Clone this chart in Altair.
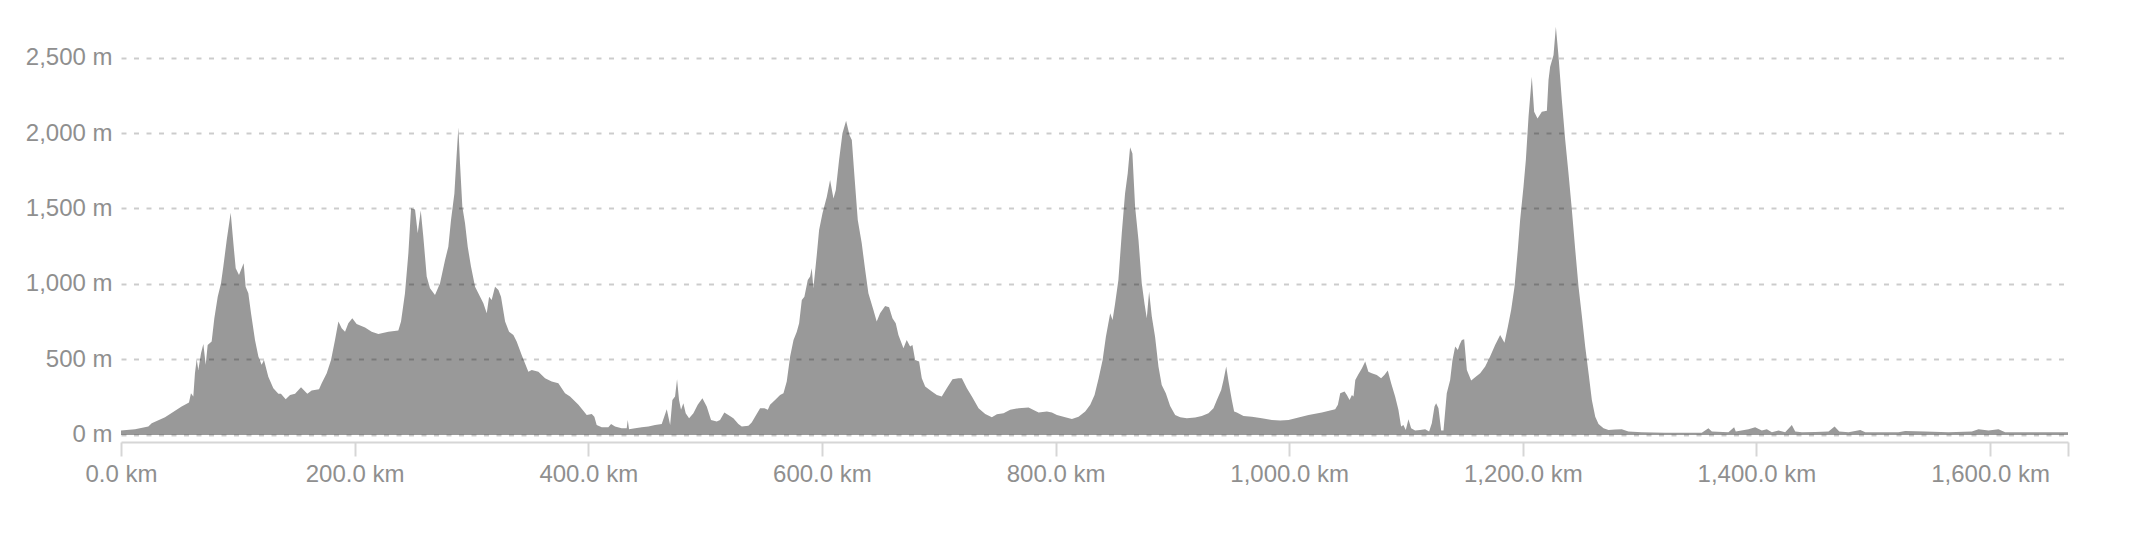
import altair as alt
import pandas as pd

# distance along the route (km)
km = [
    0, 12.0, 23.4, 26.3, 37.7, 51.9, 58.2, 59.9, 61.9, 63.3, 64.8, 66.2, 68.5, 70.5, 72.5, 74.2, 77.6, 79.9,
    82.8, 85.6, 87.6, 90.5, 93.9, 96.2, 98.2, 101.0, 103.3, 105.0, 106.7, 109.0, 111.3, 114.7, 117.6, 120.4,
    122.4, 126.1, 130.4, 134.7, 136.9, 141.0, 144.7, 149.0, 154.1, 159.5, 163.2, 169.5, 171.8, 176.1, 179.8,
    183.2, 186.1, 188.9, 191.8, 194.6, 198.0, 201.7, 208.9,
    214.6, 220.3, 228.9, 237.4, 239.7, 243.1, 246.0, 248.3, 251.7, 254.0, 256.6, 258.8, 261.7, 264.5, 268.8,
    273.1, 277.4, 280.2, 282.5, 285.4, 287.4, 288.8, 290.2, 292.2, 294.5, 296.8, 299.6, 303.1, 307.4, 310.2,
    313.1, 315.1, 317.3, 320.2, 323.1, 325.3, 328.8, 332.2, 335.9, 338.7, 343.0, 348.7, 351.6, 357.3, 363.0,
    368.7, 374.4, 380.1, 384.4, 391.6, 398.7, 403.0, 405.2, 407.2, 411.5, 417.2, 419.5, 422.9,
    428.6, 432.9, 433.8, 434.9, 440.1, 445.8, 451.5, 457.2, 462.9, 467.2, 470.1, 472.0, 474.3, 476.0, 477.7,
    479.4, 481.4, 483.4, 486.3, 490.0, 493.7, 497.7, 501.4, 505.1, 510.0, 512.8, 516.5, 519.9, 524.2, 528.5,
    531.4, 537.1, 539.9, 542.8, 547.1, 550.8, 553.7, 555.6, 559.9, 564.2, 567.1, 569.9, 572.8, 575.7, 578.5,
    580.5, 582.8, 585.0, 587.9, 589.9, 591.3, 592.7, 595.6, 597.6, 600.5, 604.2, 607.0, 609.9, 611.9, 614.7,
    617.6, 620.7, 623.6, 625.6, 627.9, 630.7, 634.1, 636.9,
    639.8, 644.1, 646.9, 649.8, 654.1, 657.5, 660.4, 663.2, 665.5, 669.8, 672.6, 675.5, 677.5, 679.8, 683.2,
    685.5, 688.4, 694.1, 698.4, 702.6, 706.9, 711.8, 716.9, 719.8, 724.1, 728.4, 734.1, 739.8, 745.5, 749.8,
    755.5, 761.2, 768.4, 776.9, 785.5, 792.6, 796.9, 801.2, 808.3, 814.0, 819.7, 825.4, 829.7, 833.4, 836.9,
    840.3, 843.1, 846.8, 848.8, 850.9,
    853.8, 856.7, 859.5, 861.8, 863.8, 865.8, 868.1, 871.0, 873.8, 876.1, 878.1, 880.1, 882.4, 885.2, 888.1,
    890.9, 894.4, 898.1, 902.4, 906.7, 912.4, 919.5, 925.2, 930.9, 935.2, 938.1, 941.8, 943.8, 946.1, 948.1,
    950.9, 952.9, 955.2, 960.9, 968.1, 976.6, 985.2, 992.3, 999.5, 1008.0, 1016.6, 1028.0, 1039.4, 1041.7,
    1043.7, 1047.4, 1049.4, 1051.7, 1053.7, 1055.1, 1056.6, 1058.9, 1062.3, 1065.1,
    1067.8, 1070.7, 1075.0, 1078.7, 1081.5, 1084.4, 1087.3, 1090.7, 1093.5, 1095.8, 1097.8, 1099.8, 1102.1,
    1104.4, 1107.8, 1112.1, 1116.4, 1119.8, 1122.1, 1124.4, 1125.8, 1127.8, 1130.1, 1132.1, 1134.9, 1137.8,
    1139.8, 1142.1, 1144.4, 1145.8, 1147.8, 1149.8, 1152.1, 1155.8, 1159.2, 1163.5, 1167.8, 1172.0, 1176.3,
    1180.6, 1184.3, 1187.2, 1190.0, 1192.9, 1195.7, 1197.7, 1200.6, 1202.6, 1204.9, 1207.7, 1209.7, 1212.6,
    1216.3, 1220.6, 1222.0, 1223.4, 1226.3, 1228.3, 1230.6, 1233.4, 1236.3, 1239.1, 1242.0, 1244.9, 1247.7,
    1250.6, 1253.4, 1256.3, 1259.1, 1262.0, 1264.8, 1269.1, 1273.4, 1279.0,
    1284.7, 1290.4, 1301.8, 1321.8, 1336.1, 1353.2, 1358.9, 1361.8, 1376.0, 1380.9, 1382.3, 1393.2, 1398.9,
    1404.6, 1408.9, 1413.2, 1418.9, 1424.6, 1430.3, 1433.2, 1438.9, 1450.3, 1461.7, 1466.9, 1470.9, 1478.9,
    1488.9, 1493.2,
    1521.6, 1527.3, 1544.4, 1564.4, 1584.4, 1590.1, 1598.7, 1607.2, 1612.9, 1635.8, 1666.7,
]

# elevation (m)
elevation = [
    29, 38, 55, 77, 117, 188, 214, 276, 254, 408, 501, 430, 541, 603, 464, 596, 618, 773,
    916, 1004, 1115, 1291, 1472, 1269, 1104, 1060, 1104, 1137, 982, 938, 806, 629, 519, 464,
    497, 386, 309, 272, 272, 236, 265, 272, 316, 272, 294, 302, 342, 408, 497,
    629, 751, 706, 684, 740, 773, 735, 712,
    684, 669, 684, 691, 751, 938, 1203, 1501, 1494, 1336, 1486, 1313, 1049, 971, 927,
    1004, 1159, 1247, 1424, 1600, 1865, 2037, 1799, 1512, 1402, 1247, 1115, 982, 916, 872,
    806, 916, 894, 982, 960, 916, 751, 684, 662, 618, 530, 419, 430, 419, 375,
    353, 342, 276, 254, 199, 132, 139, 121, 66, 51, 51, 73, 55,
    44, 44, 99, 38, 44, 51, 55, 66, 73, 170, 66, 232, 254, 369, 232,
    166, 210, 143, 110, 143, 199, 243, 188, 99, 88, 99, 148, 132, 110, 73,
    55, 60, 82, 121, 177, 177, 166, 199, 232, 265, 276, 353, 519, 629, 684,
    740, 894, 916, 1026, 1049, 1104, 971, 1192, 1358, 1468, 1578, 1689, 1567, 1622, 1821,
    1998, 2082, 1987, 1954, 1711, 1424, 1269, 1100,
    938, 828, 751, 806, 854, 845, 773, 740, 662, 574, 629, 585, 596, 497, 486,
    375, 320, 287, 265, 254, 309, 369, 375, 375, 309, 254, 177, 139, 117, 137,
    143, 166, 177, 181, 148, 155, 148, 132, 117, 106, 121, 155, 199, 265, 375,
    497, 651, 806, 762, 866,
    1026, 1336, 1600, 1733, 1905, 1865, 1512, 1291, 1004, 872, 773, 949, 784, 651, 453,
    331, 276, 192, 132, 117, 110, 115, 126, 143, 177, 232, 298, 364, 453, 353,
    232, 155, 148, 126, 121, 110, 99, 95, 99, 115, 132, 148, 170, 199,
    276, 287, 265, 232, 265, 254, 364, 397, 441, 486,
    419, 408, 397, 375, 397, 426, 342, 254, 166, 55, 66, 33, 104,
    44, 29, 33, 38, 22, 77, 188, 210, 177, 29, 29, 276, 364,
    497, 585, 563, 596, 629, 634, 430, 360, 382, 408, 453, 519, 596,
    662, 611, 717, 828, 982, 1225, 1424, 1645, 1821, 2108, 2373, 2141, 2097,
    2141, 2148, 2351, 2439, 2517, 2704, 2506, 2218, 1954, 1733, 1490, 1225, 982,
    784, 585, 408, 232, 121, 73, 44, 33, 35,
    38, 22, 18, 15, 15, 15, 44, 22, 18, 51, 22, 38, 51,
    29, 38, 18, 29, 18, 66, 22, 18, 20, 22, 55, 22, 18,
    33, 18,
    18, 26, 22, 18, 22, 38, 29, 38, 18, 18, 18,
]

x_ticks = [0, 200, 400, 600, 800, 1000, 1200, 1400, 1600, 1666.7]
y_ticks = [0, 500, 1000, 1500, 2000, 2500]

df = pd.DataFrame({"km": km, "elevation": elevation})

label_font = "Liberation Sans"
label_color = "#8f8f8f"

chart = (
    alt.Chart(df)
    .mark_area(color="#999999", interpolate="linear")
    .encode(
        x=alt.X(
            "km:Q",
            scale=alt.Scale(domain=[0, 1666.7], nice=False, zero=False),
            axis=alt.Axis(
                values=x_ticks,
                labelExpr="datum.value > 1650 ? '' : format(datum.value, ',.1f') + ' km'",
                grid=False,
                domainColor="#d6d6d6",
                domainWidth=2,
                tickColor="#d6d6d6",
                tickWidth=2,
                tickSize=14,
                labelFont=label_font,
                labelFontSize=24,
                labelColor=label_color,
                labelPadding=6,
                labelFlush=False,
                labelOverlap=False,
                title=None,
            ),
        ),
        y=alt.Y(
            "elevation:Q",
            scale=alt.Scale(domain=[-47, 2709], nice=False, zero=False),
            axis=alt.Axis(
                values=y_ticks,
                labelExpr="format(datum.value, ',') + ' m'",
                ticks=False,
                domain=False,
                grid=True,
                gridColor="#000000",
                gridOpacity=0.2,
                gridDash=[5, 7.5],
                gridWidth=2,
                labelFont=label_font,
                labelFontSize=24,
                labelColor=label_color,
                labelPadding=9,
                title=None,
                zindex=1,
            ),
        ),
        y2=alt.value("height"),
    )
    .properties(
        width=1947,
        height=416,
        padding={"left": 113, "top": 18, "right": 40, "bottom": 70},
        autosize=alt.AutoSizeParams(type="none"),
        background="white",
    )
    .configure_view(stroke=None)
)

chart.save("out.html", embed_options={"renderer": "svg", "actions": False})
